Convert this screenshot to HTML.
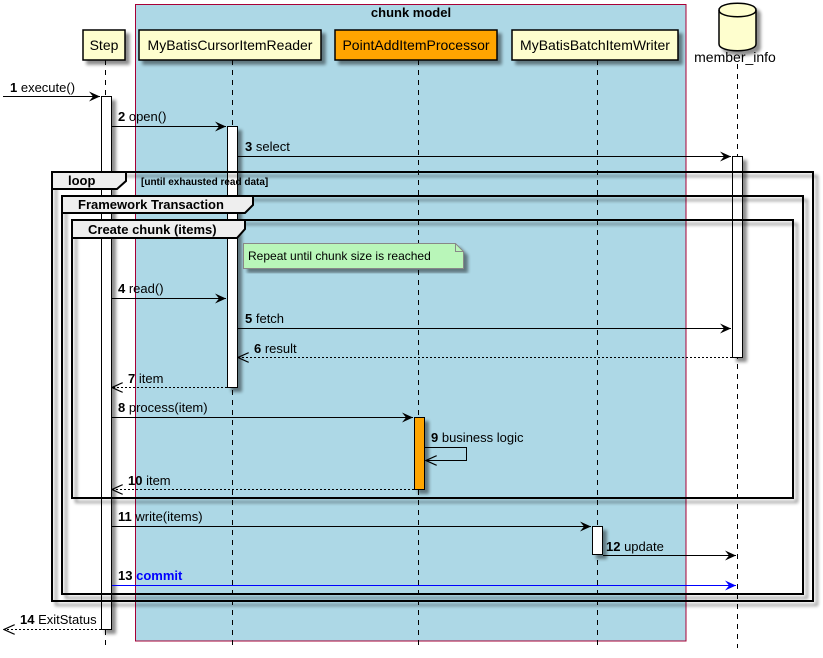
<!DOCTYPE html>
<html><head><meta charset="utf-8"><style>
html,body{margin:0;padding:0;background:#fff;}
svg{display:block;font-family:"Liberation Sans",sans-serif;}
</style></head><body>
<svg width="823" height="658" viewBox="0 0 823 658" xmlns="http://www.w3.org/2000/svg">
<defs>
<filter id="sh" x="-10%" y="-10%" width="130%" height="130%"><feGaussianBlur in="SourceAlpha" stdDeviation="1.5"/><feOffset dx="4" dy="4"/><feComponentTransfer><feFuncA type="linear" slope="0.45"/></feComponentTransfer><feMerge><feMergeNode/><feMergeNode in="SourceGraphic"/></feMerge></filter>
<marker id="ah" markerWidth="12" markerHeight="10" refX="11" refY="5" orient="auto" markerUnits="userSpaceOnUse"><path d="M0,0 L11,5 L0,10 L4,5 Z" fill="#000"/></marker>
<marker id="ahb" markerWidth="12" markerHeight="10" refX="11" refY="5" orient="auto" markerUnits="userSpaceOnUse"><path d="M0,0 L11,5 L0,10 L4,5 Z" fill="#00f"/></marker>
<marker id="ao" markerWidth="12" markerHeight="10" refX="11" refY="5" orient="auto" markerUnits="userSpaceOnUse"><path d="M0,0 L11,5 L0,10" fill="none" stroke="#000" stroke-width="1.2"/></marker>
</defs>
<rect x="135.5" y="4.5" width="550.5" height="636.5" fill="#ADD8E6" stroke="#A80036" stroke-width="1"/>
<text x="411" y="17" font-size="13" font-weight="bold" text-anchor="middle">chunk model</text>
<g stroke="#000" stroke-width="1" stroke-dasharray="5,5">
<line x1="105.5" y1="60" x2="105.5" y2="648"/>
<line x1="232.5" y1="60" x2="232.5" y2="648"/>
<line x1="418.5" y1="60" x2="418.5" y2="648"/>
<line x1="597.5" y1="60" x2="597.5" y2="648"/>
<line x1="737.5" y1="64" x2="737.5" y2="648"/>
</g>
<g filter="url(#sh)" stroke="#000" stroke-width="1.5">
<rect x="83" y="30" width="42" height="30" fill="#FEFECE"/>
<rect x="139" y="30" width="182" height="30" fill="#FEFECE"/>
<rect x="335" y="30" width="162" height="30" fill="#FFA500"/>
<rect x="512" y="30" width="166" height="30" fill="#FEFECE"/>
<path d="M719,10 C719,1 756,1 756,10 L756,44 C756,53 719,53 719,44 Z" fill="#FEFECE"/>
</g>
<path d="M719,10 C719,19 756,19 756,10" fill="none" stroke="#000" stroke-width="1.5"/>
<g font-size="14" text-anchor="middle">
<text x="104" y="50">Step</text>
<text x="230" y="50">MyBatisCursorItemReader</text>
<text x="416" y="50">PointAddItemProcessor</text>
<text x="595" y="50">MyBatisBatchItemWriter</text>
<text x="735" y="62">member_info</text>
</g>
<!-- activations -->
<g stroke="#000" stroke-width="1" filter="url(#sh)">
<rect x="101.5" y="96.5" width="10" height="533" fill="#fff"/>
<rect x="227.5" y="126.5" width="10" height="261" fill="#fff"/>
<rect x="732.5" y="156.5" width="10" height="201" fill="#fff"/>
<rect x="414.5" y="417.5" width="10" height="72" fill="#FFA500"/>
<rect x="592.5" y="526.5" width="10" height="28" fill="#fff"/>
</g>
<!-- frames -->
<g fill="none" stroke="#000" stroke-width="2" filter="url(#sh)">
<rect x="52" y="172" width="761" height="429"/>
<rect x="62" y="196" width="741" height="398"/>
<rect x="72" y="220" width="721" height="278"/>
</g>
<g fill="#EEEEEE" stroke="#000" stroke-width="2">
<path d="M52,172 L126,172 L126,181 L117,189 L52,189 Z"/>
<path d="M62,196 L253,196 L253,205 L245,213 L62,213 Z"/>
<path d="M72,220 L245,220 L245,229 L237,238 L72,238 Z"/>
</g>
<g font-weight="bold">
<text x="68" y="185" font-size="13">loop</text>
<text x="141" y="185" font-size="10">[until exhausted read data]</text>
<text x="78" y="209" font-size="13">Framework Transaction</text>
<text x="88" y="234" font-size="13">Create chunk (items)</text>
</g>
<path d="M243.5,243.5 L455.5,243.5 L463.5,251.5 L463.5,268.5 L243.5,268.5 Z" fill="#B9F6B9" stroke="#888" filter="url(#sh)"/>
<path d="M455.5,243.5 L455.5,251.5 L463.5,251.5" fill="none" stroke="#888"/>
<text x="248" y="260" font-size="12">Repeat until chunk size is reached</text>
<g stroke="#000" stroke-width="1" fill="none">
<line x1="3" y1="96.5" x2="100" y2="96.5" marker-end="url(#ah)"/>
<line x1="112" y1="126.5" x2="226" y2="126.5" marker-end="url(#ah)"/>
<line x1="238" y1="156.5" x2="731" y2="156.5" marker-end="url(#ah)"/>
<line x1="112" y1="298.5" x2="226" y2="298.5" marker-end="url(#ah)"/>
<line x1="238" y1="328.5" x2="731" y2="328.5" marker-end="url(#ah)"/>
<line x1="732" y1="357.5" x2="238" y2="357.5" stroke-dasharray="2,2" marker-end="url(#ao)"/>
<line x1="227" y1="387.5" x2="112" y2="387.5" stroke-dasharray="2,2" marker-end="url(#ao)"/>
<line x1="112" y1="417.5" x2="413" y2="417.5" marker-end="url(#ah)"/>
<polyline points="425,447.5 466.5,447.5 466.5,460.5 426,460.5" marker-end="url(#ao)"/>
<line x1="414" y1="489.5" x2="112" y2="489.5" stroke-dasharray="2,2" marker-end="url(#ao)"/>
<line x1="112" y1="526.5" x2="591" y2="526.5" marker-end="url(#ah)"/>
<line x1="603" y1="555.5" x2="736" y2="555.5" marker-end="url(#ah)"/>
<line x1="112" y1="585.5" x2="736" y2="585.5" stroke="#00f" marker-end="url(#ahb)"/>
<line x1="101" y1="629.5" x2="4" y2="629.5" stroke-dasharray="2,2" marker-end="url(#ao)"/>
</g>
<g font-size="13">
<text x="10" y="92"><tspan font-weight="bold">1</tspan> execute()</text>
<text x="118" y="121"><tspan font-weight="bold">2</tspan> open()</text>
<text x="245" y="151"><tspan font-weight="bold">3</tspan> select</text>
<text x="118" y="293"><tspan font-weight="bold">4</tspan> read()</text>
<text x="245" y="323"><tspan font-weight="bold">5</tspan> fetch</text>
<text x="254" y="353"><tspan font-weight="bold">6</tspan> result</text>
<text x="128" y="383"><tspan font-weight="bold">7</tspan> item</text>
<text x="118" y="412"><tspan font-weight="bold">8</tspan> process(item)</text>
<text x="431" y="442"><tspan font-weight="bold">9</tspan> business logic</text>
<text x="128" y="485"><tspan font-weight="bold">10</tspan> item</text>
<text x="118" y="521"><tspan font-weight="bold">11</tspan> write(items)</text>
<text x="606" y="551"><tspan font-weight="bold">12</tspan> update</text>
<text x="118" y="580"><tspan font-weight="bold">13</tspan> <tspan fill="#00f" font-weight="bold">commit</tspan></text>
<text x="20" y="624"><tspan font-weight="bold">14</tspan> ExitStatus</text>
</g>
</svg>
</body></html>
